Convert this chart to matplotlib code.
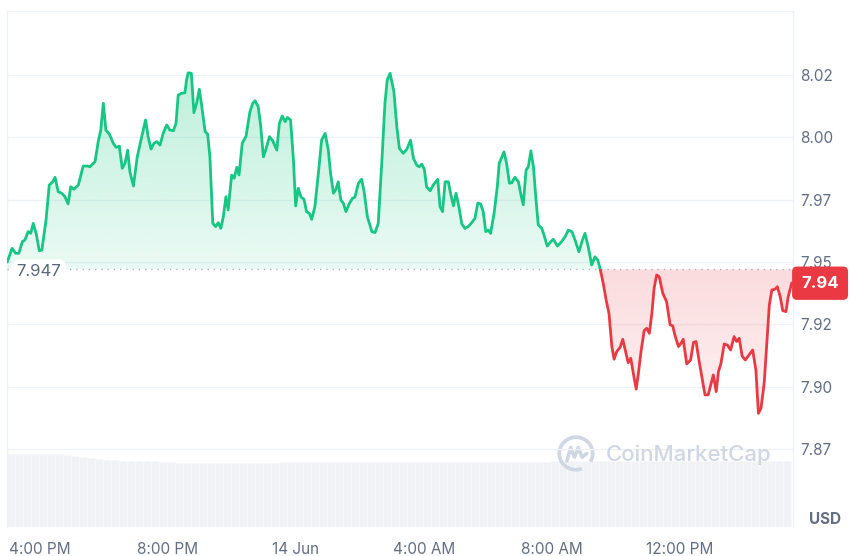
import numpy as np
import matplotlib
matplotlib.use('Agg')
import matplotlib.pyplot as plt
import matplotlib.transforms as mtransforms
from matplotlib.path import Path
from matplotlib.patches import Arc, Rectangle

plt.rcParams['font.family'] = ['Inter', 'DejaVu Sans']

# hours after 13 Jun 15:00
HOURS = [-0.02, 0.13, 0.24, 0.34, 0.45, 0.53, 0.63, 0.71, 0.79, 0.88, 0.98, 1.06, 1.19, 1.29, 1.40,
         1.47, 1.57, 1.68, 1.78, 1.88, 1.96, 2.06, 2.20, 2.35, 2.48, 2.56, 2.72, 2.82, 2.90, 2.98,
         3.06, 3.17, 3.29, 3.38, 3.48, 3.57, 3.66, 3.74, 3.81, 3.92, 4.04, 4.18, 4.30, 4.38, 4.47,
         4.56, 4.65, 4.75, 4.85, 4.96, 5.06, 5.17, 5.25, 5.32, 5.43, 5.53, 5.58, 5.63, 5.73, 5.81,
         5.90, 5.98, 6.05, 6.16, 6.24, 6.31, 6.40, 6.49, 6.57, 6.65, 6.73, 6.81, 6.88, 6.99, 7.07,
         7.15, 7.22, 7.32, 7.44, 7.56, 7.65, 7.72, 7.82, 7.90, 7.98, 8.06, 8.17, 8.27, 8.40, 8.48,
         8.57, 8.66, 8.73, 8.83, 8.92, 8.99, 9.07, 9.16, 9.25, 9.33, 9.42, 9.49, 9.59, 9.70, 9.80,
         9.91, 10.01, 10.08, 10.17, 10.25, 10.32, 10.40, 10.48, 10.56, 10.67, 10.77, 10.84, 10.95,
         11.05, 11.13, 11.23, 11.37, 11.47, 11.57, 11.68, 11.78, 11.85, 11.94, 12.06, 12.15, 12.23,
         12.35, 12.46, 12.58, 12.67, 12.77, 12.85, 12.93, 13.01, 13.08, 13.19, 13.29, 13.43, 13.50,
         13.58, 13.66, 13.76, 13.84, 13.92, 14.00, 14.10, 14.18, 14.28, 14.38, 14.49, 14.59, 14.68,
         14.77, 14.85, 14.93, 15.01, 15.08, 15.19, 15.29, 15.35, 15.50, 15.58, 15.67, 15.74, 15.84,
         15.95, 16.03, 16.10, 16.19, 16.26, 16.34, 16.42, 16.50, 16.57, 16.68, 16.75, 16.85, 16.96,
         17.04, 17.17, 17.30, 17.41, 17.51, 17.62, 17.72, 17.84, 17.95, 18.03, 18.13, 18.24, 18.34,
         18.43, 18.50, 18.60, 18.69, 18.78, 18.87, 18.94, 19.02, 19.13, 19.21, 19.31, 19.38, 19.46,
         19.54, 19.63, 19.70, 19.78, 19.88, 19.96, 20.04, 20.12, 20.19, 20.27, 20.35, 20.46, 20.58,
         20.69, 20.77, 20.84, 20.95, 21.03, 21.10, 21.21, 21.33, 21.42, 21.50, 21.60, 21.71, 21.78,
         21.88, 21.96, 22.04, 22.13, 22.20, 22.28, 22.38, 22.48, 22.58, 22.69, 22.77, 22.85, 22.94,
         23.04, 23.13, 23.27, 23.37, 23.45, 23.53, 23.63, 23.71, 23.79, 23.87, 23.97, 24.04, 24.13,
         24.21, 24.31, 24.38, 24.49]

PRICES = [7.9501, 7.9555, 7.9535, 7.9535, 7.9582, 7.9588, 7.9622, 7.9615, 7.9655, 7.9615, 7.9545,
          7.9548, 7.9669, 7.9809, 7.9822, 7.9840, 7.9782, 7.9776, 7.9762, 7.9733, 7.9802, 7.9792,
          7.9809, 7.9885, 7.9885, 7.9882, 7.9902, 7.9983, 8.0029, 8.0137, 8.0029, 8.0013, 7.9976,
          7.9960, 7.9965, 7.9876, 7.9896, 7.9949, 7.9862, 7.9805, 7.9922, 8.0003, 8.0070, 8.0003,
          7.9953, 7.9976, 7.9983, 7.9969, 8.0016, 8.0050, 8.0029, 8.0027, 8.0056, 8.0170, 8.0177,
          8.0179, 8.0230, 8.0259, 8.0257, 8.0099, 8.0139, 8.0193, 8.0130, 8.0023, 8.0013, 7.9922,
          7.9655, 7.9642, 7.9658, 7.9635, 7.9682, 7.9762, 7.9709, 7.9849, 7.9836, 7.9880, 7.9849,
          7.9976, 8.0005, 8.0103, 8.0137, 8.0147, 8.0123, 8.0043, 7.9922, 7.9952, 8.0003, 7.9987,
          7.9949, 8.0056, 8.0086, 8.0063, 8.0080, 8.0070, 7.9909, 7.9725, 7.9796, 7.9760, 7.9752,
          7.9702, 7.9695, 7.9671, 7.9722, 7.9856, 7.9989, 8.0016, 7.9949, 7.9856, 7.9776, 7.9792,
          7.9822, 7.9749, 7.9736, 7.9702, 7.9736, 7.9756, 7.9760, 7.9816, 7.9832, 7.9782, 7.9682,
          7.9622, 7.9618, 7.9655, 7.9896, 8.0137, 8.0230, 8.0257, 8.0183, 8.0043, 7.9956, 7.9936,
          7.9952, 7.9989, 7.9916, 7.9889, 7.9882, 7.9893, 7.9872, 7.9802, 7.9786, 7.9809, 7.9832,
          7.9722, 7.9702, 7.9822, 7.9822, 7.9769, 7.9725, 7.9776, 7.9716, 7.9653, 7.9635, 7.9642,
          7.9658, 7.9675, 7.9736, 7.9733, 7.9702, 7.9622, 7.9628, 7.9615, 7.9695, 7.9802, 7.9896,
          7.9942, 7.9896, 7.9816, 7.9818, 7.9840, 7.9822, 7.9769, 7.9729, 7.9869, 7.9882, 7.9946,
          7.9882, 7.9749, 7.9649, 7.9635, 7.9608, 7.9564, 7.9582, 7.9591, 7.9564, 7.9582, 7.9602,
          7.9628, 7.9622, 7.9588, 7.9541, 7.9588, 7.9615, 7.9562, 7.9488, 7.9521, 7.9508, 7.9475,
          7.9415, 7.9348, 7.9294, 7.9161, 7.9110, 7.9140, 7.9158, 7.9190, 7.9134, 7.9096, 7.9114,
          7.9054, 7.8990, 7.9054, 7.9140, 7.9225, 7.9234, 7.9214, 7.9294, 7.9395, 7.9448, 7.9441,
          7.9375, 7.9341, 7.9248, 7.9244, 7.9207, 7.9161, 7.9174, 7.9190, 7.9091, 7.9107, 7.9177,
          7.9181, 7.9100, 7.9020, 7.8967, 7.8967, 7.9007, 7.9047, 7.8980, 7.9060, 7.9094, 7.9171,
          7.9167, 7.9147, 7.9201, 7.9181, 7.9194, 7.9123, 7.9107, 7.9123, 7.9147, 7.9067, 7.8893,
          7.8914, 7.9014, 7.9174, 7.9328, 7.9388, 7.9391, 7.9401, 7.9361, 7.9305, 7.9301, 7.9361,
          7.9415]

# 24h volume, 15 minute bars (millions USD)
VOLUME = [35.5, 35.5, 35.5, 35.5, 35.5, 35.5, 35.5, 35.0, 34.5, 34.0, 33.5,
          33.0, 32.5, 32.5, 32.0, 32.0, 32.0, 32.0, 32.0, 31.5, 31.5,
          31.0, 31.0, 31.0, 31.0, 31.0, 31.0, 31.0, 31.0, 31.0, 31.0, 31.0, 31.0, 31.0,
          31.5, 31.5, 31.5, 31.5, 31.5, 31.5, 31.5, 31.5, 31.5, 31.5, 31.5, 31.5,
          31.5, 31.5, 31.5, 31.5, 31.5, 31.5, 31.5, 31.5, 31.5, 31.5, 31.5, 31.5,
          31.5, 31.5, 31.5, 31.5, 31.5, 31.5, 31.5, 31.5, 31.5, 31.5,
          32.0, 32.0, 32.0, 32.0, 32.0, 32.0, 32.0, 32.0, 32.0, 32.0, 32.0, 32.0,
          32.0, 32.0, 32.0, 32.0, 32.0, 32.0, 32.0, 32.0, 32.0, 32.0, 32.0, 32.0,
          32.0, 32.0, 32.0, 32.0, 32.0, 32.0]
VOL_START = -0.03
VOL_STEP = 0.25

BASE_PRICE = 7.947
Y_TICKS = [7.875, 7.90, 7.925, 7.95, 7.975, 8.00, 8.025]
Y_LABELS = ['7.87', '7.90', '7.92', '7.95', '7.97', '8.00', '8.02']
X_TICKS = [1, 5, 9, 13, 17, 21]
X_LABELS = ['4:00 PM', '8:00 PM', '14 Jun', '4:00 AM', '8:00 AM', '12:00 PM']

GREEN = '#16c784'
RED = '#ea3943'
GRID = '#eff2f5'
TEXT = '#616e85'


def gradient_fill(ax, x, y, base, rgb, a_near, a_far, above):
    coll = ax.fill_between(x, y, base, where=(y >= base) if above else (y <= base),
                           interpolate=True, facecolor='none', edgecolor='none')
    path = Path.make_compound_path(*coll.get_paths())
    if above:
        lo, hi = base, y.max()
        alpha = np.linspace(a_near, a_far, 256)
    else:
        lo, hi = y.min(), base
        alpha = np.linspace(a_far, a_near, 256)
    img = np.zeros((256, 1, 4))
    img[:, 0, :3] = rgb
    img[:, 0, 3] = alpha
    im = ax.imshow(img, origin='lower', aspect='auto', interpolation='bilinear',
                   extent=[x.min(), x.max(), lo, hi], zorder=2)
    im.set_clip_path(path, ax.transData)


hours = np.array(HOURS)
prices = np.array(PRICES)

fig = plt.figure(figsize=(8.5, 5.56), dpi=100)
ax = fig.add_axes([7 / 850, 29 / 556, 786 / 850, 516 / 556])
ax2 = ax.twinx()

# volume bars in the background
vol_x = VOL_START + VOL_STEP * np.arange(len(VOLUME))
ax2.bar(vol_x, VOLUME, width=VOL_STEP, align='edge', color='#f0f2f5',
        edgecolor='#f8f9fb', linewidth=0.5)
ax2.set_ylim(0, max(VOLUME) * 516 / 73)
ax2.set_yticks([])
for s in ax2.spines.values():
    s.set_visible(False)
ax.set_zorder(ax2.get_zorder() + 1)
ax.patch.set_visible(False)

# gradient areas
gradient_fill(ax, hours, prices, BASE_PRICE, (22 / 255, 199 / 255, 132 / 255), 0.09, 0.28, True)
gradient_fill(ax, hours, prices, BASE_PRICE, (234 / 255, 57 / 255, 67 / 255), 0.18, 0.07, False)

# price line, green above the open price and red below
xlim = (-0.03, 24.53)
ylim = (7.8437, 8.0507)
up, = ax.plot(hours, prices, color=GREEN, lw=2.0, zorder=4, solid_joinstyle='round')
dn, = ax.plot(hours, prices, color=RED, lw=2.0, zorder=4, solid_joinstyle='round')
up.set_clip_path(Rectangle((xlim[0], BASE_PRICE), xlim[1] - xlim[0], 1, transform=ax.transData))
dn.set_clip_path(Rectangle((xlim[0], BASE_PRICE - 1), xlim[1] - xlim[0], 1, transform=ax.transData))

ax.axhline(BASE_PRICE, color='#a6b0c3', lw=1, linestyle=(0, (1, 3.5)), zorder=3)

ax.set_xlim(*xlim)
ax.set_ylim(*ylim)

ax.yaxis.tick_right()
ax.set_yticks(Y_TICKS)
ax.set_yticklabels(Y_LABELS)
ax.set_xticks(X_TICKS)
ax.set_xticklabels(X_LABELS)
ax.tick_params(axis='y', length=0, pad=5, labelsize=11, labelcolor=TEXT)
ax.tick_params(axis='x', length=0, pad=10.5, labelsize=11, labelcolor=TEXT)
ax.grid(axis='y', color=GRID, lw=1)
ax.grid(axis='x', visible=False)
ax.set_axisbelow(True)
for name, s in ax.spines.items():
    s.set_color(GRID)
    s.set_linewidth(1)
ax.spines['bottom'].set_visible(False)

# open price label on the left
trans = mtransforms.blended_transform_factory(ax.transAxes, ax.transData)
ax.text(0.012, BASE_PRICE - 0.0009, '7.947', transform=trans, ha='left', va='center',
        fontsize=12, color='#58667e', zorder=6,
        bbox=dict(boxstyle='round,pad=0.3,rounding_size=0.5', fc='white', ec='none'))

# current price tag on the right
ax.text(1.0105, prices[-1], '7.94', transform=trans, ha='left', va='center',
        fontsize=12, fontweight='bold', color='white', zorder=6, clip_on=False,
        bbox=dict(boxstyle='round,pad=0.55,rounding_size=0.3', fc=RED, ec='none'))

fig.text(809 / 850, 1 - 519 / 556, 'USD', ha='left', va='center', fontsize=11,
         fontweight='bold', color=TEXT)

# watermark
fig.text(606 / 850, 1 - 455 / 556, 'CoinMarketCap', ha='left', va='center', fontsize=16,
         fontweight='medium', color='#cfd6e4')
logo = fig.add_axes([557 / 850, 1 - 472 / 556, 38 / 850, 37 / 556])
logo.set_xlim(0, 1)
logo.set_ylim(0, 1)
logo.axis('off')
logo.add_patch(Arc((0.5, 0.5), 0.88, 0.88, theta1=330, theta2=290, color='#cfd6e4', lw=2.6))
logo.plot([0.26, 0.36, 0.46, 0.56, 0.66, 0.78], [0.3, 0.66, 0.4, 0.66, 0.4, 0.5],
          color='#cfd6e4', lw=2.6, solid_joinstyle='round', solid_capstyle='round')

fig.savefig('out.png', dpi=100)
